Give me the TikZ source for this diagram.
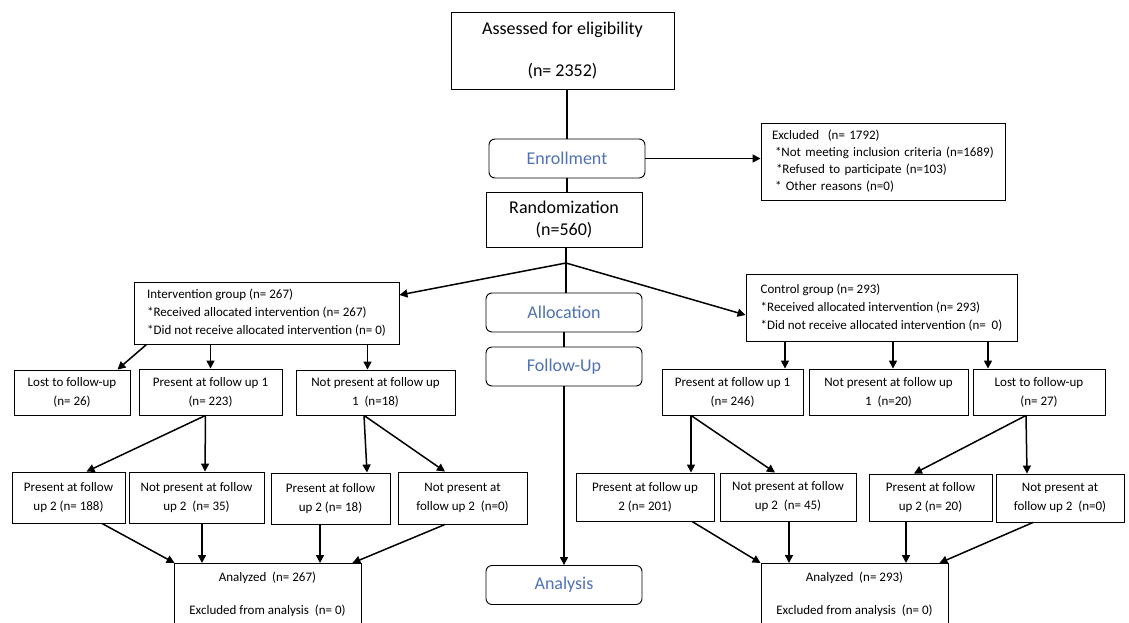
\documentclass[tikz,border=0pt]{standalone}
\usepackage{fontspec}
\setmainfont{Carlito}
\usetikzlibrary{arrows.meta}
\definecolor{stageblue}{RGB}{79,113,182}

\begin{document}
\begin{tikzpicture}[x=1pt,y=-1pt,
  box/.style={draw,line width=0.9pt,align=center,inner sep=2pt,font=\fontsize{13}{19}\selectfont},
  bigbox/.style={box,font=\fontsize{18}{22}\selectfont},
  listbox/.style={draw,line width=0.9pt,align=left,inner xsep=6pt,inner ysep=2pt,font=\fontsize{13}{18}\selectfont},
  stage/.style={draw,line width=0.9pt,rounded corners=6pt,minimum width=156pt,minimum height=39pt,text=stageblue,font=\fontsize{18}{22}\selectfont},
  line/.style={line width=1.5pt},
  arr/.style={line,-{Triangle[length=8pt,width=8pt]}}]
\useasboundingbox (0,0) rectangle (1129,622);

\node[bigbox,minimum width=223pt,minimum height=77pt] (assess) at (562.5,50.5) {Assessed for eligibility\\[20pt](n= 2352)};
\node[stage] (enroll) at (567,158.5) {Enrollment};
\node[bigbox,minimum width=156pt,minimum height=55pt] (random) at (564,219.5) {Randomization\\(n=560)};
\node[listbox,font=\fontsize{13}{17}\selectfont,inner xsep=11pt,text width=222pt,minimum height=77pt] (excl) at (883,161.5)
  {Excluded\ \ (n= 1792)\\\hspace*{3pt}*Not meeting inclusion criteria (n=1689)\\\hspace*{4pt}*Refused to participate (n=103)\\\hspace*{3pt}* Other reasons (n=0)};
\coordinate (split) at (566,263);

\node[listbox,minimum width=265pt,minimum height=62pt] (interv) at (266.5,313)
  {Intervention group (n= 267)\\{}*Received allocated intervention (n= 267)\\{}*Did not receive allocated intervention (n= 0)};
\node[listbox,minimum width=271pt,minimum height=67pt] (control) at (881.5,307.5)
  {Control group (n= 293)\\{}*Received allocated intervention (n= 293)\\{}*Did not receive allocated intervention (n=\ \ 0)};

\node[stage] (alloc) at (564,312.5) {Allocation};
\node[stage] (follow) at (564,366.5) {Follow-Up};
\node[stage] (analysis) at (564,585) {Analysis};

\node[box,minimum width=116pt,minimum height=45pt] (lostL) at (72,392.5) {Lost to follow-up\\(n= 26)};
\node[box,minimum width=143pt,minimum height=46pt] (presL) at (210.5,392) {Present at follow up 1\\(n= 223)};
\node[box,minimum width=159pt,minimum height=45pt] (notL) at (375.5,392.5) {Not present at follow up\\1\ \ (n=18)};
\node[box,minimum width=113pt,minimum height=51pt] (presLa) at (68.5,497.5) {Present at follow\\up 2 (n= 188)};
\node[box,minimum width=135pt,minimum height=51pt] (notLa) at (196.5,497.5) {Not present at follow\\up 2\ \ (n= 35)};
\node[box,minimum width=119pt,minimum height=51pt] (presLb) at (330.5,498.5) {Present at follow\\up 2 (n= 18)};
\node[box,minimum width=129pt,minimum height=52pt] (notLb) at (462.5,498) {Not present at\\follow up 2\ \ (n=0)};
\node[box,anchor=north,minimum width=187pt,inner ysep=9pt] (anaL) at (267.5,563) {Analyzed\ \ (n= 267)\\[14pt]Excluded from analysis\ \ (n= 0)};

\node[box,minimum width=141pt,minimum height=46pt] (presR) at (732.5,392) {Present at follow up 1\\(n= 246)};
\node[box,minimum width=159pt,minimum height=46pt] (notR) at (888.5,392) {Not present at follow up\\1\ \ (n=20)};
\node[box,minimum width=132pt,minimum height=46pt] (lostR) at (1039,392) {Lost to follow-up\\(n= 27)};
\node[box,minimum width=138pt,minimum height=48pt] (presRa) at (645,497) {Present at follow up\\2 (n= 201)};
\node[box,minimum width=136pt,minimum height=48pt] (notRa) at (788,497) {Not present at follow\\up 2\ \ (n= 45)};
\node[box,minimum width=123pt,minimum height=47pt] (presRb) at (930.5,497.5) {Present at follow\\up 2 (n= 20)};
\node[box,minimum width=128pt,minimum height=48pt] (notRb) at (1060,498) {Not present at\\follow up 2\ \ (n=0)};
\node[box,anchor=north,minimum width=187pt,inner ysep=9pt] (anaR) at (854.5,563) {Analyzed\ \ (n= 293)\\[14pt]Excluded from analysis\ \ (n= 0)};

\draw[line] (enroll.north |- assess.south) -- (enroll.north);
\draw[line] (enroll.south) -- (enroll.south |- random.north);
\draw[arr] (enroll.east) -- (enroll.east -| excl.west);
\draw[line] (split |- random.south) -- (split);
\draw[arr] (split) -- ([yshift=18pt]interv.east);
\draw[arr] (split) -- ([yshift=-7.5pt]control.west);
\draw[line] (split) -- (split |- alloc.north);
\draw[line] (alloc.south) -- (follow.north);
\draw[arr] (follow.south) -- (analysis.north);

\draw[arr] ([xshift=13pt]interv.south west) -- ([xshift=-13pt]lostL.north east);
\draw[arr] (presL.north |- interv.south) -- (presL.north);
\draw[arr] ([xshift=-8pt]notL.north |- interv.south) -- ([xshift=-8pt]notL.north);
\draw[arr] ([xshift=-5pt]presL.south) -- ([xshift=18pt]presLa.north);
\draw[arr] ([xshift=-5pt]presL.south) -- ([xshift=8.5pt]notLa.north);
\draw[arr] ([xshift=-11.5pt]notL.south) -- ([xshift=36.5pt]presLb.north);
\draw[arr] ([xshift=-11.5pt]notL.south) -- ([xshift=-17.5pt]notLb.north);
\draw[arr] ([xshift=33.5pt]presLa.south) -- ([xshift=1pt]anaL.north west);
\draw[arr] ([xshift=5.5pt]notLa.south) -- ([xshift=-65.5pt]anaL.north);
\draw[arr] ([xshift=-10.5pt]presLb.south) -- ([xshift=52.5pt]anaL.north);
\draw[arr] ([xshift=-17.5pt]notLb.south) -- ([xshift=-9pt]anaL.north east);

\draw[arr] ([xshift=52.5pt]presR.north |- control.south) -- ([xshift=52.5pt]presR.north);
\draw[arr] ([xshift=4.5pt]notR.north |- control.south) -- ([xshift=4.5pt]notR.north);
\draw[arr] ([xshift=-51pt]lostR.north |- control.south) -- ([xshift=-51pt]lostR.north);
\draw[arr] ([xshift=-41.5pt]presR.south) -- ([xshift=46pt]presRa.north);
\draw[arr] ([xshift=-41.5pt]presR.south) -- ([xshift=-13pt]notRa.north);
\draw[arr] ([xshift=-13pt]lostR.south) -- ([xshift=-16.5pt]presRb.north);
\draw[arr] ([xshift=-13pt]lostR.south) -- ([xshift=-33pt]notRb.north);
\draw[arr] ([xshift=47pt]presRa.south) -- (anaR.north west);
\draw[arr] ([xshift=1pt]notRa.south) -- ([xshift=-65.5pt]anaR.north);
\draw[arr] ([xshift=-24.5pt]presRb.south) -- ([xshift=51.5pt]anaR.north);
\draw[arr] ([xshift=-27pt]notRb.south) -- ([xshift=-9pt]anaR.north east);
\end{tikzpicture}
\end{document}
